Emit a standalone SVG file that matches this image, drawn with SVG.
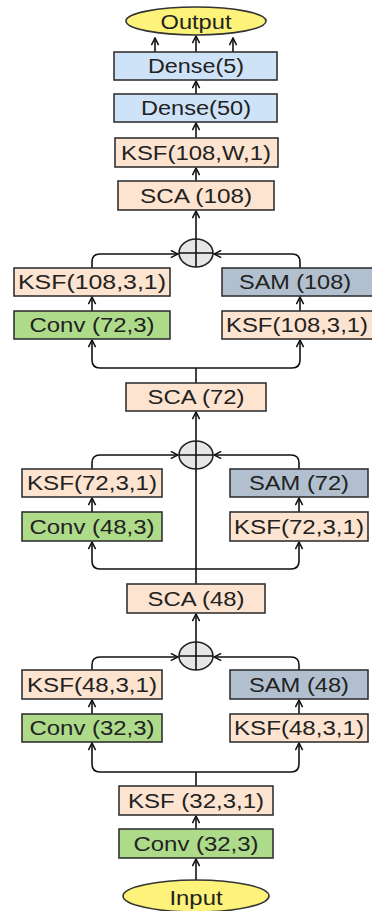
<svg xmlns="http://www.w3.org/2000/svg" width="372" height="911" viewBox="0 0 372 911">
<defs>
<marker id="arr" viewBox="0 0 10 10" refX="9" refY="5" markerWidth="9" markerHeight="9" markerUnits="userSpaceOnUse" orient="auto">
<path d="M1,1 L9,5 L1,9" fill="none" stroke="#111" stroke-width="1.7"/>
</marker>
<style>
.box{stroke:#333;stroke-width:1.6}
.peach{fill:#fce4d0}
.green{fill:#addb8a}
.blue{fill:#cfe3f8}
.gray{fill:#b1bfcf}
.ell{fill:#fdf27a;stroke:#333;stroke-width:1.6}
.t{font-family:"Liberation Sans",Arial,sans-serif;font-size:20px;fill:#222;text-anchor:middle}
.c{fill:none;stroke:#111;stroke-width:1.6}
.a{fill:none;stroke:#111;stroke-width:1.6;marker-end:url(#arr)}
.sum{fill:#e6e6e6;stroke:#222;stroke-width:1.6}
</style>
</defs>
<rect width="372" height="911" fill="#fff"/>

<g id="connectors">
<path class="a" d="M155,52 V38"/>
<path class="a" d="M196,52 V36"/>
<path class="a" d="M233,52 V38"/>
<path class="a" d="M196,94 V81"/>
<path class="a" d="M196,138 V123"/>
<path class="a" d="M196,181 V168"/>
<path class="a" d="M196,239 V211"/>
<path class="a" d="M92,268 V262 Q92,254 100,254 H178"/>
<path class="a" d="M300,268 V262 Q300,254 292,254 H214"/>
<path class="a" d="M92,311 V297"/>
<path class="a" d="M300,311 V297"/>
<path class="c" d="M196,383 V368"/>
<path class="a" d="M196,368 H100 Q92,368 92,360 V340"/>
<path class="a" d="M196,368 H292 Q300,368 300,360 V340"/>

<path class="a" d="M196,441 V412"/>
<path class="c" d="M196,469 V569"/>
<path class="a" d="M92,469 V463 Q92,455 100,455 H178"/>
<path class="a" d="M299,469 V463 Q299,455 291,455 H214"/>
<path class="a" d="M92,512 V498"/>
<path class="a" d="M299,512 V498"/>
<path class="c" d="M196,584 V569"/>
<path class="a" d="M196,569 H100 Q92,569 92,561 V542"/>
<path class="a" d="M196,569 H291 Q299,569 299,561 V542"/>

<path class="a" d="M196,642 V614"/>
<path class="a" d="M92,670 V665 Q92,657 100,657 H178"/>
<path class="a" d="M299,670 V665 Q299,657 291,657 H214"/>
<path class="a" d="M92,714 V700"/>
<path class="a" d="M299,714 V700"/>
<path class="c" d="M196,786 V772"/>
<path class="a" d="M196,772 H100 Q92,772 92,764 V743"/>
<path class="a" d="M196,772 H291 Q299,772 299,764 V743"/>
<path class="a" d="M196,829 V816"/>
<path class="a" d="M196,880 V859"/>
</g>

<g id="output"><ellipse class="ell" cx="196" cy="21" rx="70" ry="14"/><text class="t" x="196" y="28.5" textLength="71" lengthAdjust="spacingAndGlyphs">Output</text></g>
<g id="dense5"><rect class="box blue" x="114" y="52" width="163" height="28"/><text class="t" x="196" y="73" textLength="96" lengthAdjust="spacingAndGlyphs">Dense(5)</text></g>
<g id="dense50"><rect class="box blue" x="114" y="94" width="163" height="28"/><text class="t" x="196" y="115" textLength="110" lengthAdjust="spacingAndGlyphs">Dense(50)</text></g>
<g id="ksf108w"><rect class="box peach" x="115" y="138" width="163" height="29"/><text class="t" x="196" y="159.5" textLength="150" lengthAdjust="spacingAndGlyphs">KSF(108,W,1)</text></g>
<g id="sca108"><rect class="box peach" x="118" y="181" width="156" height="29"/><text class="t" x="196" y="202.5" textLength="112" lengthAdjust="spacingAndGlyphs">SCA (108)</text></g>
<g id="sum1"><ellipse class="sum" cx="196" cy="253" rx="17" ry="14"/><path class="c" d="M196,239 V267 M179,253 H213"/></g>
<g id="ksf108L"><rect class="box peach" x="14" y="268" width="156" height="28"/><text class="t" x="92" y="289" textLength="148" lengthAdjust="spacingAndGlyphs">KSF(108,3,1)</text></g>
<g id="sam108"><rect class="box gray" x="222" y="268" width="154" height="28"/><text class="t" x="295" y="289" textLength="112" lengthAdjust="spacingAndGlyphs">SAM (108)</text></g>
<g id="conv72"><rect class="box green" x="14" y="311" width="156" height="28"/><text class="t" x="92" y="332" textLength="125" lengthAdjust="spacingAndGlyphs">Conv (72,3)</text></g>
<g id="ksf108R"><rect class="box peach" x="222" y="311" width="154" height="28"/><text class="t" x="297" y="332" textLength="142" lengthAdjust="spacingAndGlyphs">KSF(108,3,1)</text></g>

<g id="sca72"><rect class="box peach" x="126" y="383" width="140" height="28"/><text class="t" x="196" y="404" textLength="97" lengthAdjust="spacingAndGlyphs">SCA (72)</text></g>
<g id="sum2"><ellipse class="sum" cx="196" cy="455" rx="17" ry="14"/><path class="c" d="M196,441 V469 M179,455 H213"/></g>
<g id="ksf72L"><rect class="box peach" x="22" y="469" width="140" height="28"/><text class="t" x="92" y="490" textLength="130" lengthAdjust="spacingAndGlyphs">KSF(72,3,1)</text></g>
<g id="sam72"><rect class="box gray" x="230" y="469" width="138" height="28"/><text class="t" x="299" y="490" textLength="100" lengthAdjust="spacingAndGlyphs">SAM (72)</text></g>
<g id="conv48"><rect class="box green" x="22" y="512" width="140" height="29"/><text class="t" x="92" y="533.5" textLength="125" lengthAdjust="spacingAndGlyphs">Conv (48,3)</text></g>
<g id="ksf72R"><rect class="box peach" x="230" y="512" width="138" height="29"/><text class="t" x="299" y="533.5" textLength="130" lengthAdjust="spacingAndGlyphs">KSF(72,3,1)</text></g>

<g id="sca48"><rect class="box peach" x="127" y="584" width="138" height="29"/><text class="t" x="196" y="605.5" textLength="97" lengthAdjust="spacingAndGlyphs">SCA (48)</text></g>
<g id="sum3"><ellipse class="sum" cx="196" cy="656" rx="17" ry="14"/><path class="c" d="M196,642 V670 M179,656 H213"/></g>
<g id="ksf48L"><rect class="box peach" x="22" y="670" width="140" height="29"/><text class="t" x="92" y="691.5" textLength="130" lengthAdjust="spacingAndGlyphs">KSF(48,3,1)</text></g>
<g id="sam48"><rect class="box gray" x="230" y="670" width="138" height="29"/><text class="t" x="299" y="691.5" textLength="100" lengthAdjust="spacingAndGlyphs">SAM (48)</text></g>
<g id="conv32L"><rect class="box green" x="22" y="714" width="140" height="28"/><text class="t" x="92" y="735" textLength="125" lengthAdjust="spacingAndGlyphs">Conv (32,3)</text></g>
<g id="ksf48R"><rect class="box peach" x="230" y="714" width="138" height="28"/><text class="t" x="299" y="735" textLength="130" lengthAdjust="spacingAndGlyphs">KSF(48,3,1)</text></g>

<g id="ksf32"><rect class="box peach" x="119" y="786" width="154" height="29"/><text class="t" x="196" y="807.5" textLength="136" lengthAdjust="spacingAndGlyphs">KSF (32,3,1)</text></g>
<g id="conv32"><rect class="box green" x="119" y="829" width="154" height="29"/><text class="t" x="196" y="850.5" textLength="125" lengthAdjust="spacingAndGlyphs">Conv (32,3)</text></g>
<g id="input"><ellipse class="ell" cx="196" cy="896" rx="73" ry="16"/><text class="t" x="196" y="904.5" textLength="53" lengthAdjust="spacingAndGlyphs">Input</text></g>
</svg>
